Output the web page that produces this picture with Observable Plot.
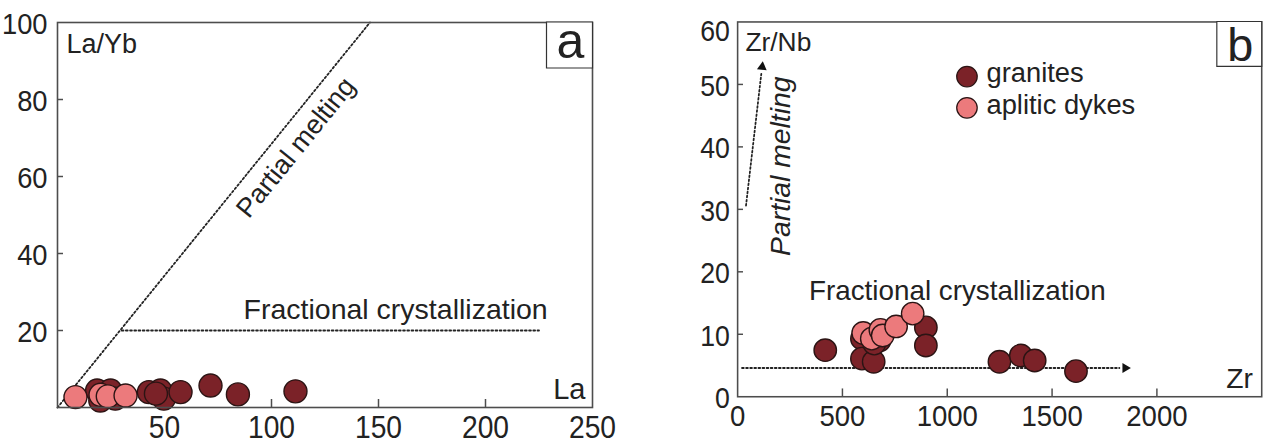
<!DOCTYPE html>
<html><head><meta charset="utf-8">
<script src="https://cdn.jsdelivr.net/npm/d3@7"></script>
<script src="https://cdn.jsdelivr.net/npm/@observablehq/plot@0.6"></script>
<style>
html,body{margin:0;padding:0;background:#fff;}
#wrap{position:relative;width:1271px;height:443px;overflow:hidden;background:#fff;}
#pa{position:absolute;left:0;top:0;}
#pb{position:absolute;left:620px;top:0;}
</style></head><body>
<div id="wrap"><div id="pa"></div><div id="pb"></div></div>
<script>
// ---------- data ----------
const series = ["granites", "aplitic dykes"];
const seriesFill = ["#7b2228", "#ec7a7c"];

// panel a : La vs La/Yb
const aGraniteLa   = [18.5, 24.8, 27.0, 20.0, 42.7, 48.1, 49.7, 46.0, 57.5, 71.5, 84.3, 111.2];
const aGraniteLaYb = [4.4, 4.4, 2.3, 1.8, 4.0, 4.4, 2.3, 3.6, 4.0, 5.7, 3.4, 4.2];
const aDykeLa   = [8.4, 20.1, 23.5, 31.8];
const aDykeLaYb = [2.7, 3.3, 2.9, 3.1];
const aMeltLa = [0, 146], aMeltLaYb = [0, 100];
const aFracLa = [30, 225], aFracLaYb = [20, 20];
const aXTicks = [50, 100, 150, 200, 250];
const aYTicks = [20, 40, 60, 80, 100];
const aXTickMarks = [50, 100, 150, 200];
const aYTickMarks = [20, 40, 60, 80];

// panel b : Zr vs Zr/Nb
const bGraniteZr   = [418, 593, 593, 649, 677, 652, 898, 898, 1249, 1351, 1417, 1614];
const bGraniteZrNb = [7.45, 9.3, 6.1, 5.6, 9.0, 8.5, 11.1, 8.2, 5.6, 6.6, 5.8, 4.1];
const bDykeZr   = [599, 640, 681, 692, 756, 835];
const bDykeZrNb = [10.2, 9.3, 10.7, 9.8, 11.25, 13.3];
const bMeltZr = [40, 113], bMeltZrNb = [30.6, 51.7];
const bFracZr = [21, 1821], bFracZrNb = [4.6, 4.6];
const bHeadZr = [117, 1849], bHeadZrNb = [52.8, 4.6], bHeadAngle = [6.7, 90];
const bXTicks = [0, 500, 1000, 1500, 2000];
const bYTicks = [0, 10, 20, 30, 40, 50];
const bYTopTick = [60];
const bXTickMarks = [500, 1000, 1500, 2000];
const bYTickMarks = [10, 20, 30, 40, 50];

// ---------- helpers ----------
const zip = (xs, ys) => xs.map((x, i) => ({x, y: ys[i]}));
const FONT = "'Liberation Sans', Arial, Helvetica, sans-serif";
const INK = "#222";
const FRAME = "#4d4d4d";
const EDGE = "#2b1414";
const DOT = "1.8,2.4";
const DOTW = 1.8;
const R = 11.5;
const fmt = d => String(d);

function legendMarks() {
  const m = [];
  series.forEach((s, i) => {
    m.push(Plot.dot([s], {frameAnchor: "top-left", dx: 235, dy: 56 + i * 32, r: 10.5,
      fill: seriesFill[i], stroke: EDGE, strokeWidth: 1.3}));
    m.push(Plot.text([s], {text: d => d, frameAnchor: "top-left", dx: 255, dy: 62 + i * 32,
      lineAnchor: "bottom", textAnchor: "start", fontSize: 28, fill: INK}));
  });
  return m;
}

// narrow-tall tick labels, like the original figure's lettering
function condenseTickLabels(svg, sx) {
  svg.querySelectorAll("g[aria-label$='tick label'] text").forEach(t => {
    const tr = t.getAttribute("transform") || "";
    t.setAttribute("transform", tr + ` scale(${sx},1)`);
  });
}

// ---------- panel a ----------
const aW = 620, aH = 443, aML = 57, aMR = 28, aMT = 22, aMB = 36;
const aPW = aW - aML - aMR, aPH = aH - aMT - aMB;
const plotA = Plot.plot({
  width: aW, height: aH, marginLeft: aML, marginRight: aMR, marginTop: aMT, marginBottom: aMB,
  x: {domain: [0, 250], label: null},
  y: {domain: [0, 100], label: null},
  style: {fontFamily: FONT, color: INK, background: "transparent", overflow: "visible"},
  marks: [
    Plot.tickY(aYTickMarks, {y: d => d, insetRight: aPW - 6, stroke: FRAME, strokeWidth: 1.5}),
    Plot.tickX(aXTickMarks, {x: d => d, insetTop: aPH - 8, stroke: FRAME, strokeWidth: 1.5}),
    Plot.axisX(aXTicks, {tickSize: 0, tickPadding: 8, fontSize: 31, label: null, fill: INK, tickFormat: fmt}),
    Plot.axisY(aYTicks, {tickSize: 0, tickPadding: 10, fontSize: 30, dy: 2, label: null, fill: INK, tickFormat: fmt}),
    Plot.line(zip(aMeltLa, aMeltLaYb), {x: "x", y: "y", stroke: "#222", strokeWidth: DOTW, strokeDasharray: DOT}),
    Plot.line(zip(aFracLa, aFracLaYb), {x: "x", y: "y", stroke: "#222", strokeWidth: DOTW, strokeDasharray: DOT}),
    Plot.text(["Partial melting"], {text: d => d, x: () => 111.4, y: () => 67.5, rotate: -51,
      fontSize: 27, lineAnchor: "middle", textAnchor: "middle", fill: INK}),
    Plot.text(["Fractional crystallization"], {text: d => d, x: () => 158, y: () => 23,
      fontSize: 28.5, lineAnchor: "bottom", textAnchor: "middle", fill: INK}),
    Plot.dot(zip(aGraniteLa, aGraniteLaYb), {x: "x", y: "y", r: R, fill: seriesFill[0], stroke: EDGE, strokeWidth: 1.4}),
    Plot.dot(zip(aDykeLa, aDykeLaYb), {x: "x", y: "y", r: R, fill: seriesFill[1], stroke: EDGE, strokeWidth: 1.4}),
    Plot.frame({stroke: FRAME, strokeWidth: 1.6}),
    Plot.text(["La/Yb"], {text: d => d, frameAnchor: "top-left", dx: 9, dy: 30, lineAnchor: "bottom",
      textAnchor: "start", fontSize: 27, fill: INK}),
    Plot.text(["La"], {text: d => d, frameAnchor: "bottom-right", dx: -7, dy: -9, lineAnchor: "bottom",
      textAnchor: "end", fontSize: 29, fill: INK}),
    Plot.dot(["a"], {frameAnchor: "top-right", dx: -23, dy: 22.5, symbol: "square", r: 25.95,
      fill: "white", stroke: "#333", strokeWidth: 1.2}),
    Plot.text(["a"], {text: d => d, frameAnchor: "top-right", dx: -22, dy: 35, lineAnchor: "bottom",
      textAnchor: "middle", fontSize: 50, fill: INK})
  ]
});
condenseTickLabels(plotA, 0.91);
document.getElementById("pa").appendChild(plotA);

// ---------- panel b ----------
const bW = 667, bH = 443, bML = 120, bMR = 10, bMT = 22, bMB = 37;
const bPW = bW - bML - bMR, bPH = bH - bMT - bMB;
const plotB = Plot.plot({
  width: bW, height: bH, marginLeft: bML, marginRight: bMR, marginTop: bMT, marginBottom: bMB,
  x: {domain: [0, 2500], label: null},
  y: {domain: [0, 60], label: null},
  style: {fontFamily: FONT, color: INK, background: "transparent", overflow: "visible"},
  marks: [
    Plot.tickY(bYTickMarks, {y: d => d, insetRight: bPW - 6, stroke: FRAME, strokeWidth: 1.5}),
    Plot.tickX(bXTickMarks, {x: d => d, insetTop: bPH - 8, stroke: FRAME, strokeWidth: 1.5}),
    Plot.axisX(bXTicks, {tickSize: 0, tickPadding: 8, fontSize: 31, label: null, fill: INK, tickFormat: fmt}),
    Plot.axisY(bYTicks, {tickSize: 0, tickPadding: 8, fontSize: 30, dy: 2, label: null, fill: INK, tickFormat: fmt}),
    Plot.axisY(bYTopTick, {tickSize: 0, tickPadding: 8, fontSize: 30, dy: 10, label: null, fill: INK, tickFormat: fmt}),
    Plot.line(zip(bMeltZr, bMeltZrNb), {x: "x", y: "y", stroke: "#222", strokeWidth: DOTW, strokeDasharray: DOT}),
    Plot.line(zip(bFracZr, bFracZrNb), {x: "x", y: "y", stroke: "#222", strokeWidth: DOTW, strokeDasharray: DOT}),
    Plot.dot(bHeadZr.map((x, i) => ({x, y: bHeadZrNb[i], a: bHeadAngle[i]})),
      {x: "x", y: "y", rotate: "a", symbol: "triangle2", r: 4.8, fill: "#111", stroke: "none"}),
    Plot.text(["Partial melting"], {text: d => d, x: () => 209, y: () => 36.9, rotate: -90,
      fontSize: 29, fontStyle: "italic", lineAnchor: "middle", textAnchor: "middle", fill: INK}),
    Plot.text(["Fractional crystallization"], {text: d => d, x: () => 1048, y: () => 15.5,
      fontSize: 28.5, lineAnchor: "bottom", textAnchor: "middle", fill: INK}),
    Plot.dot(zip(bGraniteZr, bGraniteZrNb), {x: "x", y: "y", r: R, fill: seriesFill[0], stroke: EDGE, strokeWidth: 1.4}),
    Plot.dot(zip(bDykeZr, bDykeZrNb), {x: "x", y: "y", r: R, fill: seriesFill[1], stroke: EDGE, strokeWidth: 1.4}),
    ...legendMarks(),
    Plot.frame({stroke: FRAME, strokeWidth: 1.6}),
    Plot.text(["Zr/Nb"], {text: d => d, frameAnchor: "top-left", dx: 8, dy: 30, lineAnchor: "bottom",
      textAnchor: "start", fontSize: 27, fill: INK}),
    Plot.text(["Zr"], {text: d => d, frameAnchor: "bottom-right", dx: -9, dy: -9, lineAnchor: "bottom",
      textAnchor: "end", fontSize: 29, fill: INK}),
    Plot.dot(["b"], {frameAnchor: "top-right", dx: -23, dy: 22.5, symbol: "square", r: 25.95,
      fill: "white", stroke: "#333", strokeWidth: 1.2}),
    Plot.text(["b"], {text: d => d, frameAnchor: "top-right", dx: -22, dy: 40, lineAnchor: "bottom",
      textAnchor: "middle", fontSize: 48, fill: INK})
  ]
});
condenseTickLabels(plotB, 0.91);
document.getElementById("pb").appendChild(plotB);
</script>
</body></html>
